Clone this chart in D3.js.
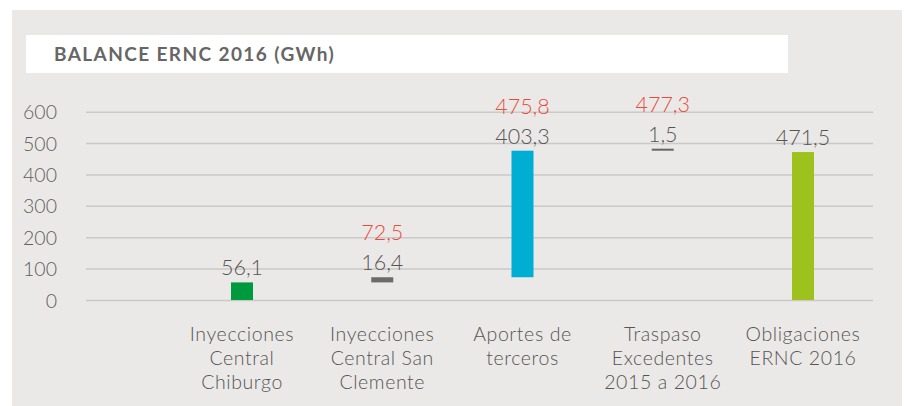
<!DOCTYPE html>
<html>
<head>
<meta charset="utf-8">
<script src="https://cdn.jsdelivr.net/npm/d3@7/dist/d3.min.js"></script>
<style>
  html, body { margin: 0; padding: 0; background: #ffffff; }
  svg { display: block; }
  text { font-family: Lato, "Open Sans", sans-serif; }
</style>
</head>
<body>
<svg id="chart" width="904" height="406"></svg>
<script>
// Balance ERNC 2016 (GWh) — waterfall
const categories = [
  ["Inyecciones", "Central", "Chiburgo"],
  ["Inyecciones", "Central San", "Clemente"],
  ["Aportes de", "terceros"],
  ["Traspaso", "Excedentes", "2015 a 2016"],
  ["Obligaciones", "ERNC 2016"]
];
const values = [56.1, 16.4, 403.3, 1.5, 471.5];
// step kind: "delta" stacks on the running total, "total" starts from zero
const kinds = ["delta", "delta", "delta", "delta", "total"];
// running totals printed above the steps
const runningLabels = [null, "72,5", "475,8", "477,3", null];
const barColors = ["#009a3e", "#6b6b6b", "#00aed3", "#666666", "#9dc21d"];
const yTicks = [0, 100, 200, 300, 400, 500, 600];

const fmt = v => d3.format(".1f")(v).replace(".", ",");

const svg = d3.select("#chart");

// panel background and title strip
svg.append("rect").attr("x", 12).attr("y", 10).attr("width", 890).attr("height", 396).attr("fill", "#ebe9e7");
svg.append("rect").attr("x", 26).attr("y", 35).attr("width", 762).attr("height", 38).attr("fill", "#ffffff");
svg.append("text")
  .attr("x", 54).attr("y", 61)
  .attr("fill", "#666666")
  .style("font-size", "19px").style("font-weight", 700).style("letter-spacing", "1.4px")
  .text("BALANCE ERNC 2016 (GWh)");

const y = d3.scaleLinear().domain([0, 600]).range([300, 111.7]);
const x = d3.scalePoint().domain(d3.range(categories.length)).range([242, 803]);
const barW = 22;

// gridlines + tick labels via axis
const yAxis = d3.axisLeft(y).tickValues(yTicks).tickSize(-(873 - 86)).tickPadding(29).tickFormat(d => d);
const gAxis = svg.append("g").attr("transform", "translate(86,0)").call(yAxis);
gAxis.select(".domain").remove();
gAxis.selectAll(".tick line").attr("stroke", "#cbc9c7").attr("stroke-width", 1.5);
gAxis.selectAll(".tick text")
  .attr("fill", "#5f5f5f")
  .style("font-size", "19.5px").style("font-weight", 300)
  .attr("dy", "0.36em");

// step geometry
let running = 0;
const steps = values.map((v, i) => {
  let lo, hi;
  if (kinds[i] === "total") { lo = 0; hi = v; }
  else { lo = running; hi = running + v; running = hi; }
  return { i, v, lo, hi };
});

const g = svg.append("g");
g.selectAll("rect.bar").data(steps).join("rect")
  .attr("class", "bar")
  .attr("x", d => x(d.i) - barW / 2)
  .attr("width", barW)
  .attr("y", d => Math.min(y(d.hi), y(d.lo) - 2))
  .attr("height", d => Math.max(2, y(d.lo) - y(d.hi)))
  .attr("fill", (d, i) => barColors[i]);

// step value labels
g.selectAll("text.val").data(steps).join("text")
  .attr("class", "val")
  .attr("x", d => x(d.i))
  .attr("y", d => Math.min(y(d.hi), y(d.lo) - 2) - 7)
  .attr("text-anchor", "middle")
  .attr("fill", "#555555")
  .style("font-size", "21.5px").style("font-weight", 300)
  .text(d => fmt(d.v));

// running total labels
g.selectAll("text.run").data(steps.filter(d => runningLabels[d.i])).join("text")
  .attr("class", "run")
  .attr("x", d => x(d.i))
  .attr("y", d => Math.min(y(d.hi), y(d.lo) - 2) - 37)
  .attr("text-anchor", "middle")
  .attr("fill", "#e94b3c")
  .style("font-size", "21.5px").style("font-weight", 300)
  .text(d => runningLabels[d.i]);

// category labels, one text per line
const catG = svg.append("g").selectAll("g.cat").data(categories).join("g")
  .attr("class", "cat")
  .attr("transform", (d, i) => `translate(${x(i)},341)`);
catG.selectAll("text").data(d => d).join("text")
  .attr("x", 0)
  .attr("y", (d, j) => j * 24)
  .attr("text-anchor", "middle")
  .attr("fill", "#555555")
  .style("font-size", "19.5px").style("font-weight", 300).style("letter-spacing", "0.6px")
  .text(d => d);
</script>
</body>
</html>
